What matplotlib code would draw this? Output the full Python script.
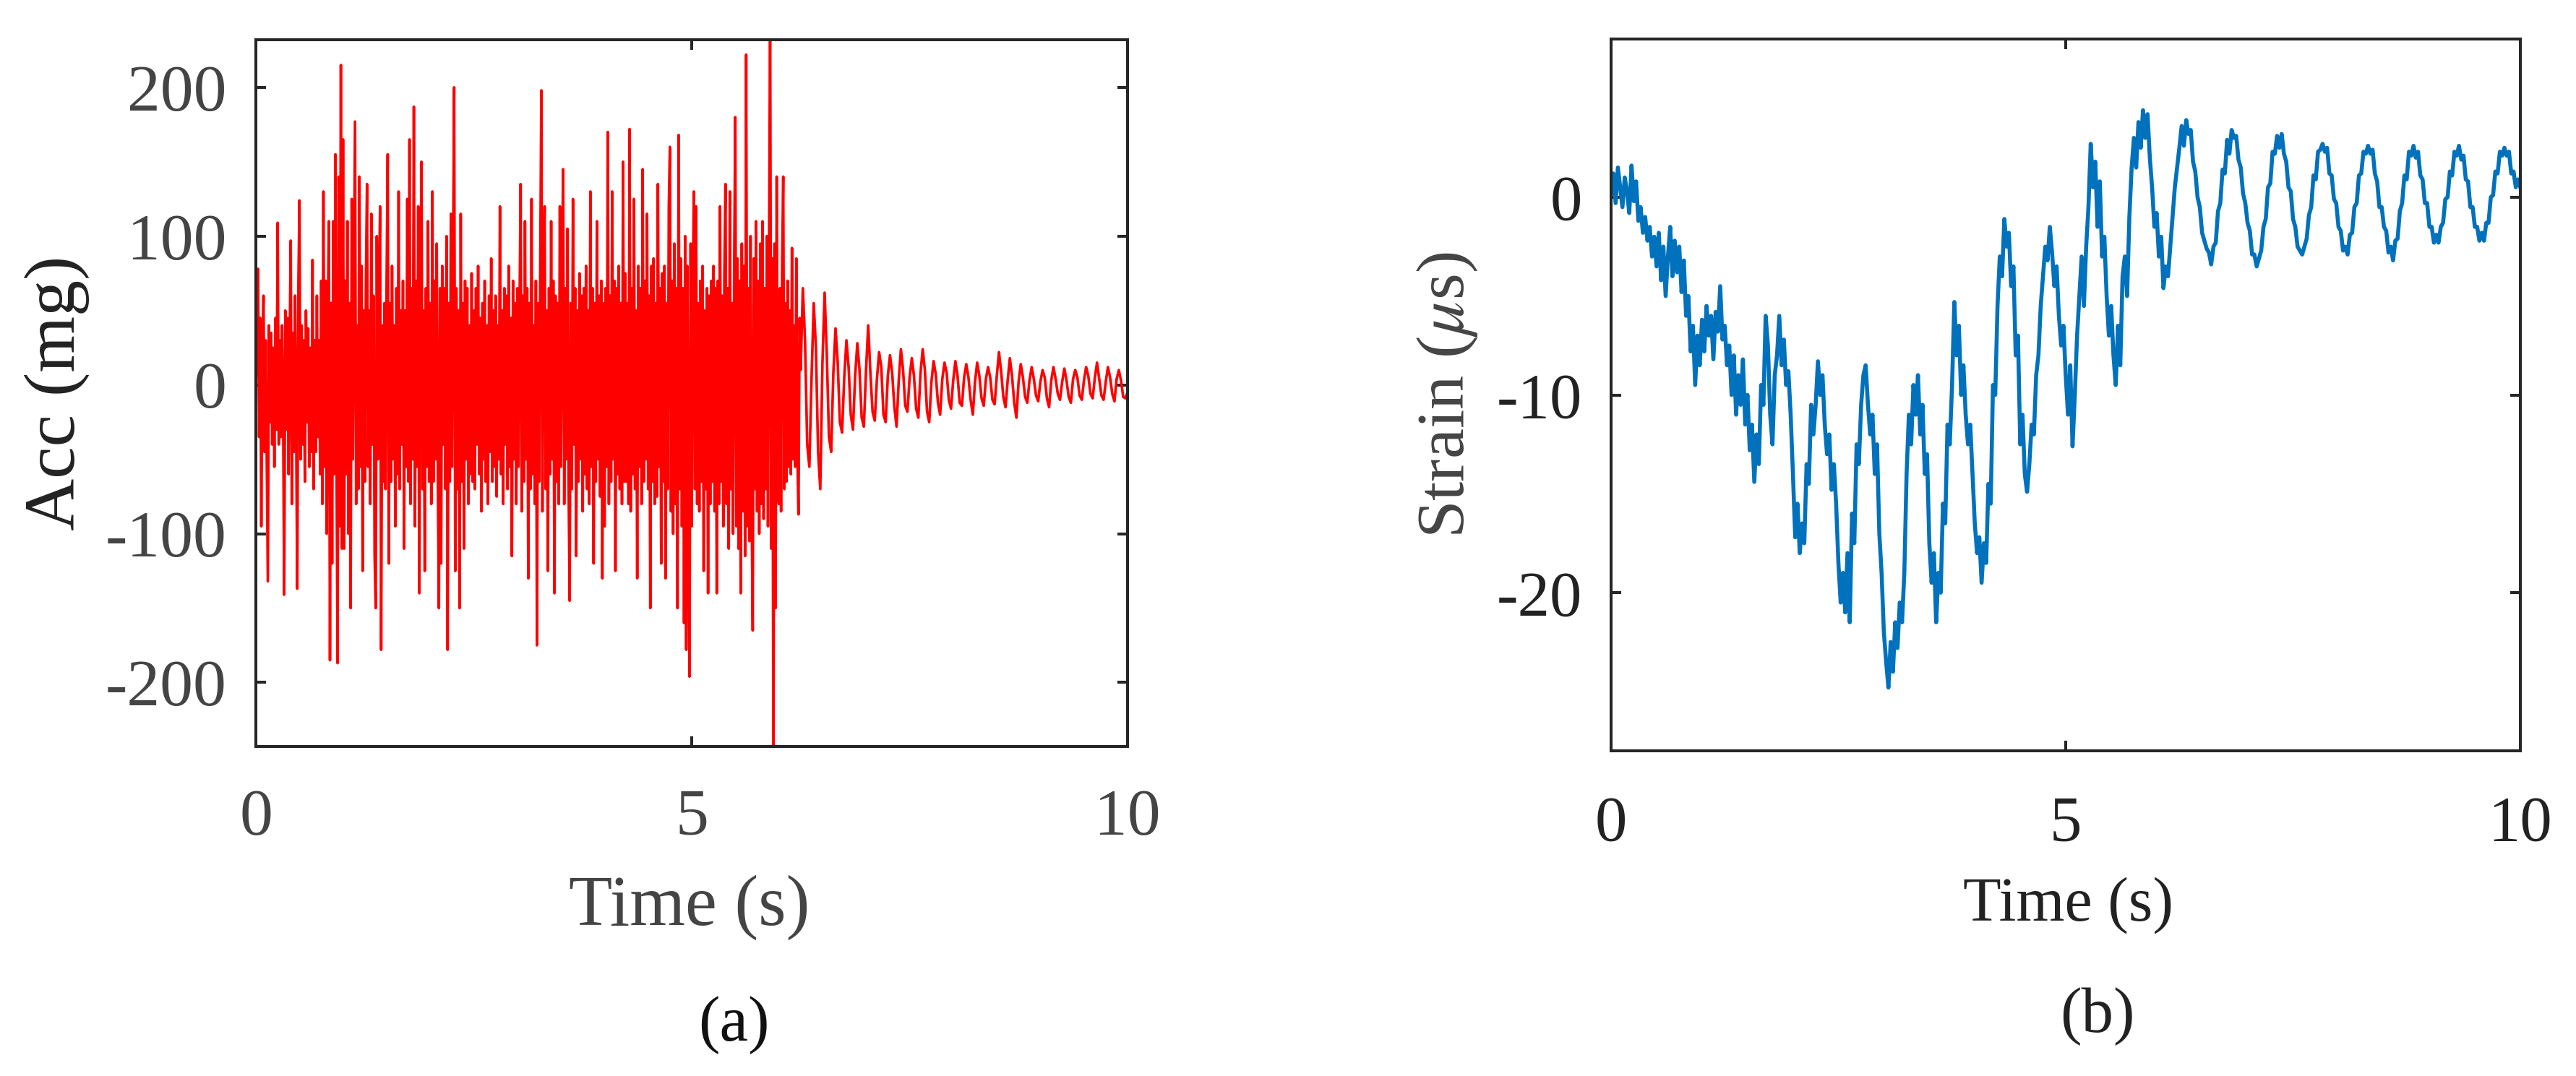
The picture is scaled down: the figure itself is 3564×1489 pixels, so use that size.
import numpy as np
import matplotlib
matplotlib.use("Agg")
import matplotlib.pyplot as plt

plt.rcParams['font.family'] = ['Liberation Serif', 'DejaVu Serif']
plt.rcParams['mathtext.fontset'] = 'stix'
plt.rcParams['axes.unicode_minus'] = False

# ---------------- data ----------------
# (a) acceleration, mg ; dense part sampled every 0.0125 s from t = 0
acc_head = [
    0, 30, 78, -35, 45, -95, 20, 60, -45, 30, -50, -132, 40, -25, 35, -40, 25, -55, 45, -30,
    109, -40, 30, -35, 40, -15, -141, 50, -30, 45, -60, 25, 97, -80, 35, -45, 60, -30, -137, 65,
    124, -50, 40, -40, 30, -65, 50, -25, 38, -55, 25, -45, 84, -70, 30, -45, 60, -35, 30, -60,
    70, -80, 130, -55, 70, -100, 40, 110, -185, 55, -120, 110, -60, 155, -45, -187, 140, -95, 215, -110,
    165, -110, 70, -60, 110, -100, 55, -150, 125, -50, 65, 177, -80, 40, -70, 140, -55, 80, -125, 50,
    -65, 70, 135, -55, 50, -80, 115, -40, 60, -115, -150, 100, -50, 65, 120, -178, 40, -65, 55, -70,
    70, 155, -120, 55, -65, 80, -50, 40, -95, 65, -60, 130, -70, 50, -40, 70, -110, 50, -55, 125,
    -65, 165, -80, 65, -50, 187, -95, 70, -55, 120, -140, 60, 150, -70, 50, -125, 65, -55, 110, -65,
    55, -80, 130, -65, 70, -50, 95, -60, -150, 65, -120, 80, -40, 65, -70, 100, -178, 55, -65, 115,
    -55, 85, 200, -125, 65, -70, 50, -150, 115, -65, 55, -110, 70, -50, 65, -80, 40, -60, 75, -65,
    50, -70, 65, -40, 80, -60, 45, -85, 55, -50, 70, -65, 40, -80, 60, -45, 85, -65, 50, -55,
    60, -75, 40, -50, 120, -60, 50, -80, 65, -40, 60, -70, 80, -55, 45, -115, 70, -50, 55, -80,
    65, -55, 50, 135, -85, 60, -65, 110, -50, 65, -130, 55, -70, 125, -60, 40, -80, 70, -175, 55,
    -65, 80, 198, -85, 55, 120, -70, 50, -125, 65, -60, 110, -50, 70, -140, 60, -65, 55, -80, 120,
    -55, 70, 145, -80, 65, -50, 105, -65, -145, 55, -70, 125, -40, 65, -115, 50, -65, 75, -50, 60,
    -85, 65, -60, 80, -70, 50, -80, 130, -55, 65, -120, 55, -65, 110, -50, 60, -75, 70, -130, 55,
    -95, 65, -55, 170, -80, 60, -65, 130, -50, 70, -125, 65, -60, 80, -70, 55, -80, 150, -65, 75,
    -65, 55, -80, 172, -85, 65, -60, 125, -70, 50, -130, 80, -55, 65, -80, 145, -65, 70, -50, 115,
    -70, 60, -150, 80, -65, 85, -80, 55, -75, 135, -55, 65, -120, 75, -65, 80, -130, 55, -70, 120,
    160, -85, 70, -100, 95, -80, 65, -150, 168, -70, 85, -95, 65, -160, 100, -178, 80, -85, -196, 95,
    -95, 65, 130, -70, 120, -80, 55, -85, 70, -65, 80, -125, 50, -70, 65, -140, 60, -80, 70, -65,
    80, -85, 65, -140, 70, -80, 120, -65, 60, -95, 75, 135, -80, 65, -110, 130, -70, 55, -100, 80,
    180, -95, 85, -110, 70, -140, 95, -85, 80, -115, 222, -95, 65, -105, 100, -80, -165, 85, -70, 110,
    -85, 70, -100, 95, -80, 110, -90, 65, -70, 100, -95, 80, 260, -110, 85, -265, 95, -150, 140, -70,
    -80, 65, -85, 80, 140, -70, 55, -65, 70, -55, 50, -60, 92, -50, 40, -55, 85, -45, -87, 45,
]
acc_head_dt = 0.0125
# decaying free vibration, sampled every 0.025 s from t = 6.25 s
acc_tail = [
    10, 65, 30, -40, -55, 5, 55, 25, -45, -70, 15, 62, 20, -35, -45, 8, 38, 15, -25, -32,
    5, 30, 12, -20, -30, 6, 28, 10, -22, -28, 10, 40, 8, -18, -24, 4, 22, 12, -20, -25,
    6, 20, 8, -15, -28, 3, 24, 10, -14, -18, 5, 18, 6, -16, -22, 8, 24, 10, -18, -25,
    2, 16, 7, -12, -20, 4, 15, 8, -10, -16, 3, 16, 6, -12, -14, 5, 14, 5, -10, -20,
    2, 15, 6, -9, -14, 4, 12, 5, -10, -13, 6, 22, 9, -8, -15, 3, 18, 6, -12, -22,
    2, 14, 5, -8, -12, 3, 12, 4, -7, -11, 2, 10, 5, -9, -15, 3, 12, 4, -6, -10,
    2, 11, 3, -8, -12, 4, 10, 5, -7, -10, 3, 12, 6, -6, -9, 5, 15, 4, -7, -10,
    2, 12, 5, -6, -11, 4, 10, 3, -8, -9, -5,
]
acc_tail_t0 = 6.25
acc_tail_dt = 0.025

# (b) strain, micro-strain, sampled every 0.025 s from t = 0
strain = [
    0.2, 1.2, -0.3, 1.5, 0.5, -0.5, 1.0, 0.3, -0.8, 1.6,
    -0.2, 0.8, -1.2, -0.5, -1.8, -1.0, -2.2, -1.5, -3.0, -2.0,
    -3.5, -1.8, -4.2, -2.5, -5.0, -3.0, -1.5, -4.0, -2.2, -3.8,
    -2.5, -4.8, -3.2, -6.0, -5.0, -7.8, -6.5, -9.5, -7.0, -8.5,
    -6.2, -7.8, -5.5, -7.0, -6.0, -8.2, -5.8, -6.8, -4.5, -7.2,
    -6.5, -8.5, -7.5, -10.0, -8.0, -11.0, -9.0, -10.5, -8.2, -11.5,
    -10.0, -12.8, -11.5, -14.4, -12.0, -13.5, -9.5, -10.5, -6.0, -7.5,
    -11.0, -12.5, -9.0, -8.0, -6.0, -8.5, -7.2, -9.5, -8.8, -11.0,
    -14.0, -17.2, -15.5, -18.0, -16.5, -17.5, -13.5, -14.5, -10.5, -12.0,
    -10.5, -8.3, -10.0, -9.0, -11.5, -13.0, -12.0, -14.8, -13.5, -15.5,
    -18.5, -20.5, -19.0, -21.0, -18.0, -21.5, -16.0, -17.5, -12.5, -13.5,
    -10.5, -9.0, -8.5, -10.5, -12.0, -11.0, -14.0, -12.5, -17.0, -19.0,
    -22.0, -23.5, -24.8, -22.5, -24.0, -21.5, -22.8, -20.5, -21.5, -19.0,
    -14.0, -11.0, -12.5, -9.5, -11.0, -9.0, -12.0, -10.5, -14.0, -13.0,
    -17.5, -19.5, -18.0, -21.5, -19.0, -20.0, -15.5, -16.5, -11.5, -12.5,
    -9.5, -5.3, -8.0, -6.5, -10.0, -8.5, -11.0, -12.5, -11.5, -14.0,
    -16.5, -18.0, -17.2, -19.5, -17.5, -18.5, -14.5, -15.5, -9.5, -10.0,
    -5.5, -3.0, -4.0, -1.1, -2.5, -1.8, -4.5, -3.5, -8.0, -7.0,
    -12.5, -11.0, -14.0, -14.9, -13.5, -11.5, -12.0, -9.0, -8.0, -5.5,
    -4.0, -2.5, -3.2, -1.5, -2.8, -4.5, -3.5, -6.0, -7.5, -6.5,
    -9.0, -11.0, -8.5, -12.6, -10.0, -7.0, -5.0, -3.0, -5.5, -2.5,
    -0.5, 2.7, 0.5, 1.8, -1.5, 0.8, -3.0, -2.0, -5.0, -7.0,
    -5.5, -8.0, -9.5, -6.5, -8.5, -4.0, -3.0, -5.0, -1.0, 1.5,
    3.0, 1.5, 3.8, 2.5, 4.4, 3.0, 4.2, 2.0, 0.5, -1.5,
    -0.8, -3.0, -2.0, -4.6, -3.5, -4.0, -2.5, -1.0, 0.5, 1.5,
    2.5, 3.6, 2.6, 3.9, 3.2, 3.4, 1.8, 1.3, 0.0, -0.5,
    -1.8, -2.2, -2.6, -2.8, -3.4, -2.5, -2.3, -0.7, -0.3, 1.4,
    1.2, 2.9, 2.2, 3.4, 3.0, 3.1, 1.9, 1.5, 0.2, -0.3,
    -1.3, -1.7, -2.9, -2.9, -3.5, -3.1, -2.7, -1.5, -1.1, 0.5,
    0.7, 2.3, 2.2, 3.1, 2.5, 3.2, 2.2, 1.8, 0.5, 0.3,
    -1.1, -1.5, -2.5, -2.7, -2.9, -2.5, -2.1, -0.9, -0.5, 1.1,
    0.9, 2.3, 2.4, 2.7, 2.3, 2.5, 1.2, 1.1, -0.1, -0.3,
    -1.5, -1.7, -2.7, -2.5, -2.9, -1.9, -1.8, -0.5, -0.3, 1.1,
    1.2, 2.3, 2.2, 2.6, 2.2, 2.4, 1.2, 0.8, -0.5, -0.5,
    -1.5, -1.7, -2.8, -2.5, -3.2, -2.2, -2.1, -0.7, -0.3, 1.1,
    0.9, 2.3, 2.1, 2.6, 2.0, 2.3, 1.1, 0.9, -0.3, -0.3,
    -1.5, -1.5, -2.3, -1.9, -2.3, -1.5, -1.3, -0.1, 0.0, 1.3,
    1.1, 2.3, 2.1, 2.6, 1.9, 2.1, 0.9, 0.8, -0.5, -0.5,
    -1.5, -1.5, -2.2, -1.8, -2.2, -1.3, -1.3, 0.0, 0.1, 1.3,
    1.2, 2.3, 2.1, 2.5, 2.1, 2.3, 1.2, 1.3, 0.5, 0.9,
    0.5,
]
strain_dt = 0.025

xticks = [0, 5, 10]
acc_yticks = [-200, -100, 0, 100, 200]
strain_yticks = [-20, -10, 0]
acc_ylim = (-243, 232)
strain_ylim = (-28, 8)

# ---------------- figure ----------------
W, H = 3564, 1489
DPI = 100
fig = plt.figure(figsize=(W / DPI, H / DPI), dpi=DPI)

t_head = np.arange(len(acc_head)) * acc_head_dt
t_tail = acc_tail_t0 + np.arange(len(acc_tail)) * acc_tail_dt
t_acc = np.concatenate([t_head, t_tail])
acc = np.array(acc_head + acc_tail, dtype=float)
t_str = np.arange(len(strain)) * strain_dt


def frac(x0, x1, y0, y1):
    return [x0 / W, 1 - y1 / H, (x1 - x0) / W, (y1 - y0) / H]


spine_c = '#262626'

# ----- (a) -----
ax1 = fig.add_axes(frac(354, 1560, 55, 1033))
ax1.plot(t_acc, acc, color='#ff0000', lw=2.6)
ax1.set_xlim(0, 10)
ax1.set_ylim(*acc_ylim)
ax1.set_xticks(xticks)
ax1.set_yticks(acc_yticks)
ax1.tick_params(direction='in', top=True, right=True, length=10, width=2.9,
                color=spine_c, labelsize=66, labelcolor='#444444')
ax1.tick_params(axis='y', pad=29)
ax1.tick_params(axis='x', pad=42)
ax1.set_xlabel('Time (s)', fontsize=71, color='#444444')
ax1.xaxis.label.set_va('baseline')
ax1.xaxis.set_label_coords(0.497, -0.2526)
ax1.set_ylabel('Acc (mg)', fontsize=72, color='#222222')
ax1.yaxis.label.set_va('baseline')
ax1.yaxis.set_label_coords(-0.2081, 0.5)

# ----- (b) -----
ax2 = fig.add_axes(frac(2229, 3487, 54, 1039))
ax2.plot(t_str, strain, color='#0072bd', lw=4.0)
ax2.set_xlim(0, 10)
ax2.set_ylim(*strain_ylim)
ax2.set_xticks(xticks)
ax2.set_yticks(strain_yticks)
ax2.tick_params(direction='in', top=True, right=True, length=10, width=2.9,
                color=spine_c, labelsize=64, labelcolor='#222222')
ax2.tick_params(axis='y', pad=29)
ax2.tick_params(axis='x', pad=44)
ax2.set_xlabel('Time (s)', fontsize=62, color='#222222')
ax2.xaxis.label.set_va('baseline')
ax2.xaxis.set_label_coords(0.503, -0.2376)
ax2.set_ylabel(r'Strain ($\mu$s)', fontsize=68, color='#444444')
ax2.yaxis.label.set_va('baseline')
ax2.yaxis.set_label_coords(-0.1622, 0.5)

for ax in (ax1, ax2):
    for s in ax.spines.values():
        s.set_linewidth(2.9)
        s.set_color(spine_c)

fig.text(1015 / W, 1 - 1440 / H, '(a)', fontsize=64, color='#111111',
         ha='center', va='baseline')
fig.text(2902 / W, 1 - 1428 / H, '(b)', fontsize=64, color='#222222',
         ha='center', va='baseline')

fig.savefig('out.png', dpi=DPI)
